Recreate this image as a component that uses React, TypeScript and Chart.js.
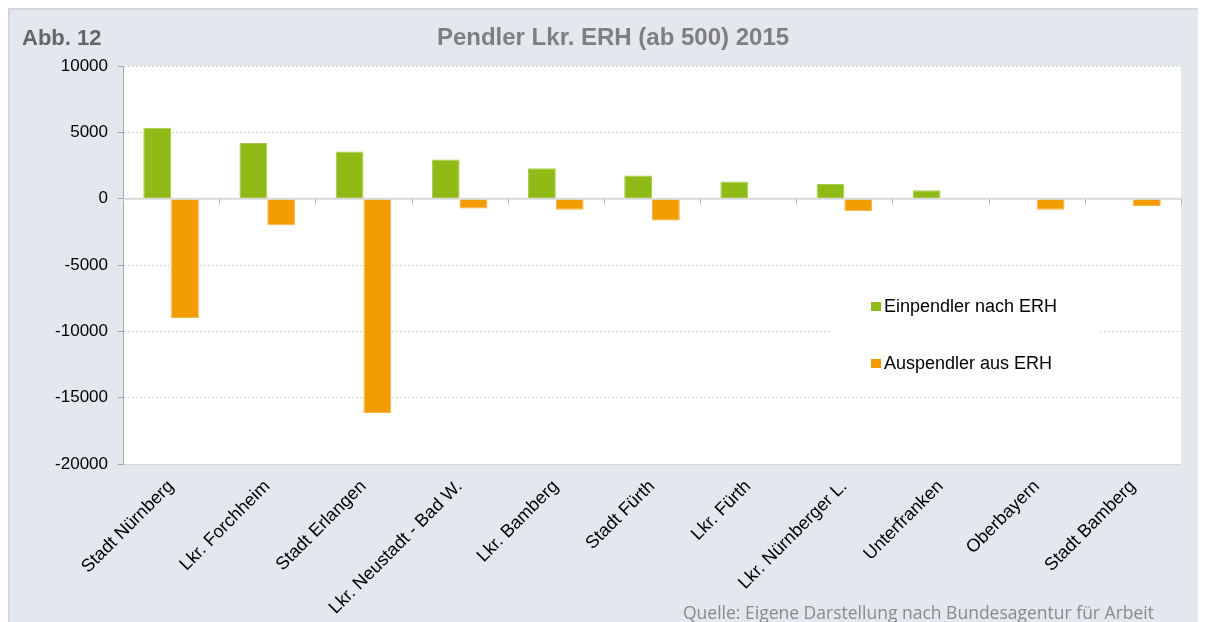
import React, { useEffect, useRef } from "react";
import { Chart, registerables } from "chart.js";

Chart.register(...registerables);

const categories = [
  "Stadt Nürnberg",
  "Lkr. Forchheim",
  "Stadt Erlangen",
  "Lkr. Neustadt - Bad W.",
  "Lkr. Bamberg",
  "Stadt Fürth",
  "Lkr. Fürth",
  "Lkr. Nürnberger L.",
  "Unterfranken",
  "Oberbayern",
  "Stadt Bamberg",
];
const einpendler: (number | null)[] = [5350, 4200, 3550, 2950, 2300, 1750, 1300, 1100, 630, null, null];
const auspendler: (number | null)[] = [-9000, -2000, -16150, -750, -830, -1650, null, -950, null, -830, -550];
const yTicks = [10000, 5000, 0, -5000, -10000, -15000, -20000];
const seriesLabels = ["Einpendler nach ERH", "Auspendler aus ERH"];
const seriesColors = ["#8fbb17", "#f39c00"];
const seriesBorders = ["#a9cc4c", "#f6b440"];
const chartTitle = "Pendler Lkr. ERH (ab 500) 2015";
const figureLabel = "Abb. 12";
const sourceNote = "Quelle: Eigene Darstellung nach Bundesagentur für Arbeit";

const W = 1198;
const H = 614;

export default function App() {
  const ref = useRef<HTMLCanvasElement | null>(null);

  useEffect(() => {
    document.documentElement.style.overflow = "hidden";
    const canvas = ref.current;
    if (!canvas) return;

    const decor = {
      id: "decor",
      beforeDraw(chart: any) {
        const { ctx, chartArea } = chart;
        ctx.save();
        ctx.fillStyle = "#ffffff";
        ctx.fillRect(chartArea.left, chartArea.top, chartArea.right - chartArea.left, chartArea.bottom - chartArea.top);
        ctx.restore();
      },
      afterDatasetsDraw(chart: any) {
        const { ctx, chartArea } = chart;
        const xs = chart.scales.x;
        const ys = chart.scales.y;
        const y0 = ys.getPixelForValue(0);
        ctx.save();
        ctx.strokeStyle = "#d9d9d9";
        ctx.lineWidth = 2;
        ctx.beginPath();
        ctx.moveTo(chartArea.left, y0);
        ctx.lineTo(chartArea.right, y0);
        ctx.stroke();
        ctx.strokeStyle = "#b8b8b8";
        ctx.lineWidth = 1;
        for (let i = 0; i <= categories.length; i++) {
          const x = Math.round(xs.getPixelForValue(i - 0.5)) + 0.5;
          ctx.beginPath();
          ctx.moveTo(x, y0);
          ctx.lineTo(x, y0 + 6);
          ctx.stroke();
        }
        ctx.restore();
      },
      afterDraw(chart: any) {
        const { ctx } = chart;
        ctx.save();
        ctx.textBaseline = "alphabetic";
        ctx.fillStyle = "#666666";
        ctx.font = "bold 22px 'Liberation Sans', Arial, sans-serif";
        ctx.textAlign = "left";
        ctx.fillText(figureLabel, 14, 37);
        ctx.fillStyle = "#7f7f7f";
        ctx.font = "bold 24px 'Liberation Sans', Arial, sans-serif";
        ctx.textAlign = "center";
        ctx.fillText(chartTitle, 605, 37);
        ctx.fillStyle = "#8a8a8a";
        ctx.font = "18px 'Open Sans', sans-serif";
        ctx.textAlign = "left";
        ctx.fillText(sourceNote, 675, 611, 471);
        ctx.fillStyle = "#ffffff";
        ctx.fillRect(822, 270, 268, 112);
        ctx.font = "18px 'Liberation Sans', Arial, sans-serif";
        ctx.textBaseline = "middle";
        const rows = [298, 355];
        chart.data.datasets.forEach((ds: any, i: number) => {
          ctx.fillStyle = ds.backgroundColor;
          ctx.fillRect(863, rows[i] - 4, 10, 9);
          ctx.fillStyle = "#000000";
          ctx.fillText(ds.label, 876, rows[i] + 1);
        });
        ctx.restore();
      },
    };

    const chart = new Chart(canvas, {
      type: "bar",
      data: {
        labels: categories,
        datasets: [
          {
            label: seriesLabels[0],
            data: einpendler,
            backgroundColor: seriesColors[0],
            borderColor: seriesBorders[0],
            borderWidth: 1,
            barPercentage: 1,
            categoryPercentage: 0.578,
          },
          {
            label: seriesLabels[1],
            data: auspendler,
            backgroundColor: seriesColors[1],
            borderColor: seriesBorders[1],
            borderWidth: 1,
            barPercentage: 1,
            categoryPercentage: 0.578,
          },
        ],
      },
      options: {
        responsive: false,
        devicePixelRatio: 1,
        animation: false,
        layout: { padding: { left: 0, right: 25, top: 58, bottom: 0 } },
        plugins: {
          legend: { display: false },
          title: { display: false },
          tooltip: { enabled: false },
        },
        scales: {
          x: {
            grid: { display: false, drawTicks: false },
            border: { display: false },
            ticks: {
              color: "#000000",
              font: { family: "'Liberation Sans', Arial, sans-serif", size: 18 },
              minRotation: 45,
              maxRotation: 45,
              padding: 12,
              autoSkip: false,
            },
            afterFit(scale: any) {
              scale.height = H - 456;
            },
          },
          y: {
            min: -20000,
            max: 10000,
            afterBuildTicks(scale: any) {
              scale.ticks = yTicks.map((v) => ({ value: v }));
            },
            afterFit(scale: any) {
              scale.width = 115;
            },
            ticks: {
              color: "#000000",
              font: { family: "'Liberation Sans', Arial, sans-serif", size: 17 },
              padding: 10,
              callback: (v: any) => String(v),
            },
            grid: {
              color: (c: any) => (c.tick && c.tick.value === 0 ? "rgba(0,0,0,0)" : "#d4d4d4"),
              tickLength: 5,
              tickColor: "#a6a6a6",
              lineWidth: 1,
            },
            border: {
              display: true,
              color: "#a6a6a6",
              width: 1,
              dash: (c: any) => (c.tick && c.tick.value === -20000 ? [] : [2, 2]),
            },
          },
        },
      },
      plugins: [decor],
    } as any);

    return () => chart.destroy();
  }, []);

  return (
    <div
      style={{
        position: "relative",
        width: W,
        height: H,
        background: "#e3e8ef",
        borderTop: "2px solid #d6d6d6",
        borderLeft: "2px solid #d6d6d6",
        boxSizing: "border-box",
      }}
    >
      <canvas
        ref={ref}
        width={W}
        height={H}
        style={{ position: "absolute", left: -2, top: -2, width: W, height: H }}
      />
    </div>
  );
}
